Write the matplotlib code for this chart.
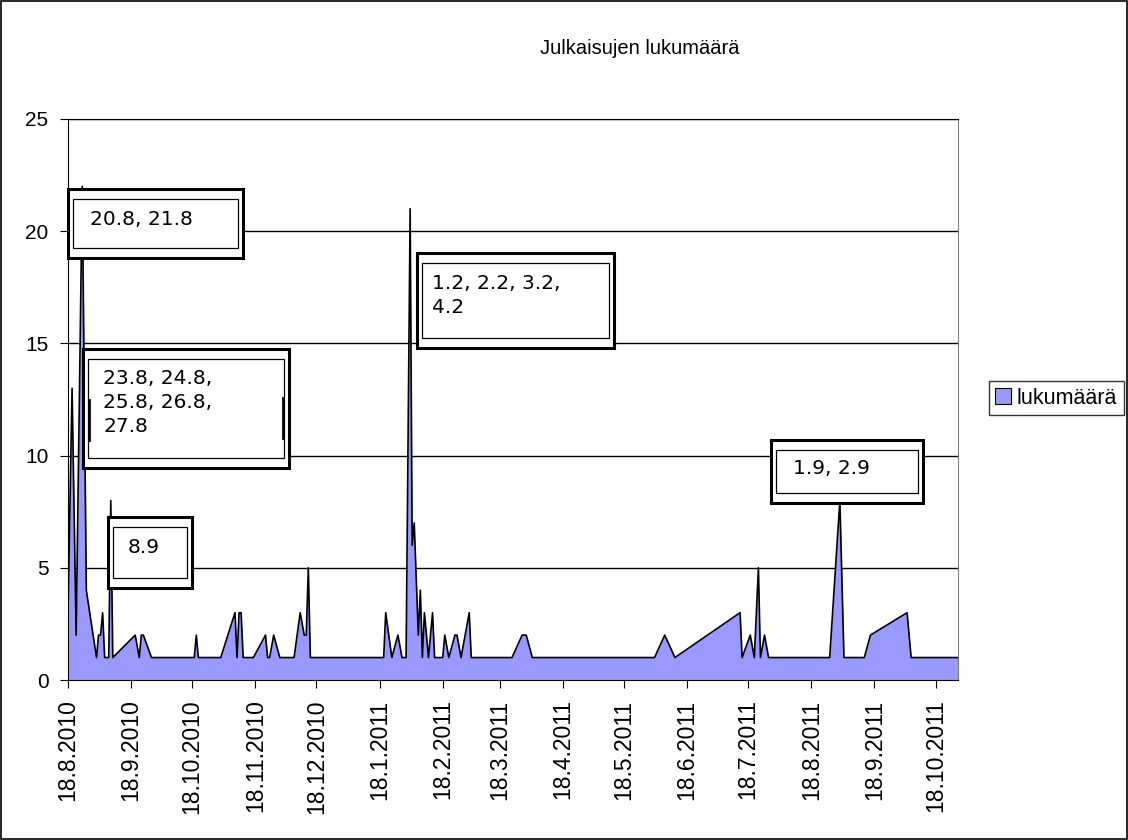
import matplotlib
matplotlib.use('Agg')
from matplotlib import pyplot as plt
from matplotlib.patches import Rectangle
from matplotlib.lines import Line2D
import pandas as pd

# Julkaisut per päivä (päiviä alkaen 18.8.2010)
start = pd.Timestamp('2010-08-18')
day_offsets = [0, 2, 4, 7, 9, 14, 15, 16, 17, 18, 20, 21, 22, 33, 35, 36, 37, 41,
               62, 63, 64, 75, 82, 83, 84, 85, 86, 91, 97, 98, 99, 101, 104, 111,
               114, 116, 117, 118, 119, 155, 156, 159, 162, 164, 166, 168, 169, 170,
               172, 173, 174, 175, 177, 179, 180, 184, 185, 187, 190, 191, 193, 197,
               198, 218, 223, 225, 228, 288, 293, 298, 330, 331, 335, 337, 339, 340,
               342, 344, 374, 379, 381, 391, 394, 412, 414, 437]
counts = [3, 13, 2, 22, 4, 1, 2, 2, 3, 1, 1, 8, 1, 2, 1, 2, 2, 1,
          1, 2, 1, 1, 3, 1, 3, 3, 1, 1, 2, 1, 1, 2, 1, 1,
          3, 2, 2, 5, 1, 1, 3, 1, 2, 1, 1, 21, 6, 7,
          2, 4, 1, 3, 1, 3, 1, 1, 2, 1, 2, 2, 1, 3,
          1, 1, 2, 2, 1, 1, 2, 1, 3, 1, 2, 1, 5, 1,
          2, 1, 1, 8, 1, 1, 2, 3, 1, 1]
dates = [start + pd.Timedelta(days=d) for d in day_offsets]

tick_dates = pd.date_range('2010-08-01', '2011-10-01', freq='MS') + pd.Timedelta(days=17)
tick_labels = [f'{t.day}.{t.month}.{t.year}' for t in tick_dates]

notes = ['20.8, 21.8', '23.8, 24.8,\n25.8, 26.8,\n27.8', '8.9', '1.2, 2.2, 3.2,\n4.2', '1.9, 2.9']
# outer box in pixels: x0, y0 (top), x1, y1 (bottom)
note_boxes = [(68, 189, 243, 258), (83, 349, 289, 468), (108, 517, 192, 588),
              (417, 253, 614, 348), (771, 440, 923, 503)]
# text anchor (left, top) in pixels
note_text = [(90, 210), (103, 369), (128, 538), (432, 274), (793, 459)]

W, H = 1128, 840
fig = plt.figure(figsize=(W / 100, H / 100), dpi=100)
fig.patch.set_facecolor('white')
ax = fig.add_axes([68 / W, 1 - 680 / H, (958 - 68) / W, (680 - 119) / H])

ax.fill_between(dates, counts, 0, color='#9999FF', lw=0)
ax.plot(dates, counts, color='black', lw=1.2)

ax.set_xlim(start, dates[-1])
ax.set_ylim(0, 25)
ax.set_yticks(range(0, 26, 5))
ax.yaxis.grid(True, color='black', lw=1)
ax.set_axisbelow(True)
ax.set_xticks(tick_dates)
ax.set_xticklabels(tick_labels, rotation=90, fontsize=16.5, family='Liberation Sans')
for lbl in ax.get_yticklabels():
    lbl.set_family('Liberation Sans')
    lbl.set_fontsize(15)
ax.tick_params(axis='both', direction='out', length=6, color='black')
ax.tick_params(axis='x', pad=8)
ax.tick_params(axis='y', pad=8)
ax.spines['left'].set_color('black')
ax.spines['bottom'].set_color('black')
ax.spines['right'].set_color('#808080')
ax.spines['top'].set_color('black')

fig.text(640 / W, 1 - 48 / H, 'Julkaisujen lukumäärä', ha='center', va='center',
         fontsize=14.5, family='Liberation Sans')


def px(x, y):
    return x / W, 1 - y / H


for text, (x0, y0, x1, y1), (tx, ty) in zip(notes, note_boxes, note_text):
    fig.add_artist(Rectangle(px(x0, y1), (x1 - x0) / W, (y1 - y0) / H,
                             transform=fig.transFigure, fc='white', ec='black', lw=2.2))
    fig.add_artist(Rectangle(px(x0 + 5, y1 - 10), (x1 - x0 - 10) / W, (y1 - y0 - 20) / H,
                             transform=fig.transFigure, fc='white', ec='black', lw=0.9))
    fig.text(*px(tx, ty), text, ha='left', va='top', fontsize=14.5,
             family='DejaVu Sans', linespacing=1.32)

# small stray marks inside the second note box
for mx, my0, my1 in [(89, 400, 440), (283, 398, 438)]:
    fig.add_artist(Line2D([mx / W, mx / W], [1 - my0 / H, 1 - my1 / H],
                          transform=fig.transFigure, color='black', lw=2))

handle = Rectangle((0, 0), 1, 1, fc='#9999FF', ec='black', lw=0.8)
leg = fig.legend([handle], ['lukumäärä'], loc='center left',
                 bbox_to_anchor=(989 / W, 1 - 398 / H), frameon=True, fancybox=False,
                 edgecolor='black', handlelength=0.7, handleheight=0.7, handletextpad=0.3,
                 borderpad=0.3, borderaxespad=0,
                 prop={'family': 'Liberation Sans', 'size': 15.5})
leg.get_frame().set_linewidth(1)

fig.add_artist(Rectangle((0.001, 0.001), 0.998, 0.998, transform=fig.transFigure,
                         fill=False, ec='black', lw=1.2))

fig.savefig('out.png', dpi=100)
